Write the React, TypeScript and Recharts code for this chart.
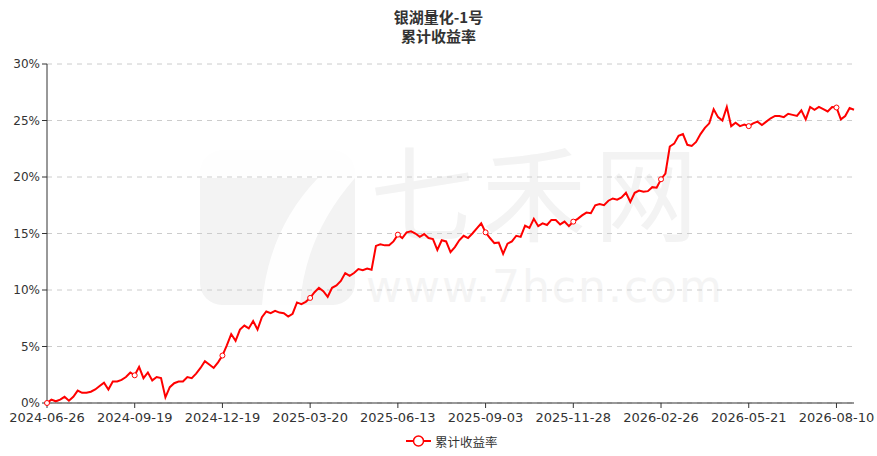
import React from 'react';
import { LineChart, Line, XAxis, YAxis, CartesianGrid, Legend } from 'recharts';

// x-axis labels, one every POINTS_PER_TICK samples
const dateTicks = [
  '2024-06-26', '2024-09-19', '2024-12-19', '2025-03-20', '2025-06-13',
  '2025-09-03', '2025-11-28', '2026-02-26', '2026-05-21', '2026-08-10',
];
const POINTS_PER_TICK = 20;

const yTicks = [0, 5, 10, 15, 20, 25, 30];

// 累计收益率 (%), sampled evenly along the x axis
const cumReturn = [
  0.0, 0.3, 0.15, 0.3, 0.55, 0.2, 0.55, 1.1, 0.9, 0.9,
  1.0, 1.2, 1.5, 1.8, 1.2, 1.9, 1.9, 2.05, 2.3, 2.7,
  2.45, 3.2, 2.2, 2.7, 2.0, 2.3, 2.2, 0.5, 1.4, 1.75,
  1.9, 1.9, 2.3, 2.2, 2.6, 3.1, 3.7, 3.4, 3.1, 3.6,
  4.2, 5.1, 6.1, 5.5, 6.5, 6.85, 6.6, 7.25, 6.5, 7.6,
  8.1, 7.95, 8.15, 8.0, 7.95, 7.65, 7.9, 8.9, 8.75, 8.95,
  9.3, 9.8, 10.2, 9.9, 9.4, 10.2, 10.4, 10.8, 11.5, 11.25,
  11.5, 11.85, 11.75, 11.9, 11.8, 13.9, 14.05, 13.95, 13.95, 14.3,
  14.9, 14.6, 15.1, 15.2, 15.0, 14.7, 14.95, 14.6, 14.5, 13.55,
  14.4, 14.3, 13.35, 13.8, 14.4, 14.8, 14.6, 15.0, 15.45, 15.9,
  15.1, 14.6, 14.15, 14.2, 13.2, 14.1, 14.3, 14.8, 14.7, 15.7,
  15.5, 16.3, 15.65, 15.9, 15.75, 16.2, 16.2, 15.8, 16.05, 15.65,
  16.05, 16.3, 16.6, 16.85, 16.8, 17.5, 17.6, 17.5, 17.9, 18.1,
  18.0, 18.2, 18.6, 17.8, 18.6, 18.8, 18.7, 18.75, 19.1, 19.05,
  19.8, 20.3, 22.7, 22.95, 23.65, 23.8, 22.85, 22.75, 23.1, 23.8,
  24.35, 24.75, 26.0, 25.3, 25.0, 26.2, 24.5, 24.8, 24.5, 24.65,
  24.5, 24.75, 24.9, 24.6, 24.9, 25.2, 25.4, 25.4, 25.3, 25.6,
  25.5, 25.4, 25.9, 25.1, 26.2, 25.95, 26.2, 26.0, 25.8, 26.2,
  26.15, 25.1, 25.4, 26.1, 25.95,
];

const data = cumReturn.map((v, i) => ({ idx: i, value: v }));
const tickIdx = dateTicks.map((_, k) => k * POINTS_PER_TICK);

const RED = '#ff0000';
const AXIS = '#333';

const MarkerDot = (props: any) => {
  const { cx, cy, index } = props;
  if (index % POINTS_PER_TICK !== 0) return <g key={index} />;
  return <circle key={index} cx={cx} cy={cy} r={2.5} fill="#fff" stroke={RED} strokeWidth={1} />;
};

const LegendContent = () => (
  <div style={{ display: 'flex', alignItems: 'center', height: 20, paddingLeft: 406 }}>
    <svg width={25} height={14} style={{ marginRight: 4 }}>
      <line x1={0} y1={7} x2={25} y2={7} stroke={RED} strokeWidth={2} />
      <circle cx={12.5} cy={7} r={5} fill="#fff" stroke={RED} strokeWidth={1.5} />
    </svg>
    <span style={{ fontSize: 12.5, color: '#333', fontFamily: '"Noto Sans CJK SC", sans-serif' }}>累计收益率</span>
  </div>
);

function Watermark() {
  return (
    <svg width={877} height={456} style={{ position: 'absolute', left: 0, top: 0 }}>
      <rect x={200} y={150} width={155} height={155} rx={22} fill="#f3f3f3" />
      <path d="M200 178 L318 178 Q268 230 262 305 L300 305 Q305 235 355 178 L355 150 L200 150 Z" fill="#fff" opacity={0.9} />
      <text x={538} y={234} textAnchor="middle" fontSize={104} fill="#f3f3f3"
        fontFamily='"Noto Sans CJK SC", sans-serif' letterSpacing={8}>七禾网</text>
      <text x={545} y={302} textAnchor="middle" fontSize={44} fill="#f4f4f4"
        fontFamily='"DejaVu Sans", sans-serif' letterSpacing={2}>www.7hcn.com</text>
    </svg>
  );
}

export default function App() {
  return (
    <div style={{ position: 'absolute', left: 0, top: 0, width: 877, height: 456, background: '#fff' }}>
      <Watermark />
      <div style={{ position: 'absolute', left: 0, top: 7, width: 877, textAlign: 'center',
        fontFamily: '"Noto Sans CJK SC", sans-serif', fontWeight: 700, fontSize: 15, lineHeight: '19px', color: '#333' }}>
        <div>银湖量化-1号</div>
        <div>累计收益率</div>
      </div>
      <div style={{ position: 'absolute', left: 0, top: 0 }}>
        <LineChart width={877} height={456} data={data} margin={{ top: 64, right: 23, bottom: 5, left: 0 }}>
          <CartesianGrid vertical={false} stroke="#ccc" strokeDasharray="5 5" />
          <XAxis
            type="number"
            dataKey="idx"
            domain={[0, cumReturn.length - 1]}
            ticks={tickIdx}
            interval={0}
            tickFormatter={(v: number) => dateTicks[Math.round(v / POINTS_PER_TICK)]}
            height={28}
            stroke={AXIS}
            tickSize={5}
            tick={{ fill: AXIS, fontSize: 13, fontFamily: '"DejaVu Sans", sans-serif', dy: 3 }}
          />
          <YAxis
            type="number"
            domain={[0, 30]}
            ticks={yTicks}
            interval={0}
            tickFormatter={(v: number) => `${v}%`}
            width={47}
            stroke={AXIS}
            tickSize={5}
            tick={{ fill: AXIS, fontSize: 12, fontFamily: '"DejaVu Sans", sans-serif' }}
          />
          <Legend verticalAlign="bottom" height={20} wrapperStyle={{ left: 0, width: 877 }} content={<LegendContent />} />
          <Line
            type="linear"
            dataKey="value"
            name="累计收益率"
            stroke={RED}
            strokeWidth={2}
            dot={<MarkerDot />}
            activeDot={false}
            isAnimationActive={false}
          />
        </LineChart>
      </div>
    </div>
  );
}
